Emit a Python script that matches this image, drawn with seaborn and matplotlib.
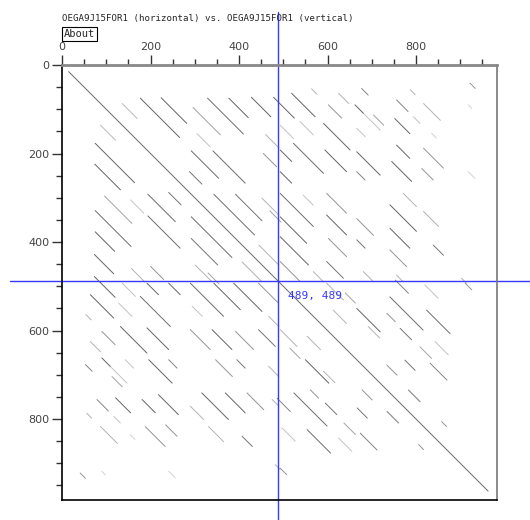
import pandas as pd
import matplotlib.pyplot as plt
import seaborn as sns
from matplotlib.colors import LinearSegmentedColormap

# === dados do dotplot ===
seq_name = "OEGA9J15FOR1"
seq_len = 983
cursor_x = 489
cursor_y = 489
tick_major = [0, 200, 400, 600, 800]
tick_minor = list(range(0, 1000, 50))

# segmentos acima da diagonal (x inicial, y inicial, comprimento, intensidade 0..1)
# a metade de baixo e o espelho (comparacao da sequencia com ela mesma)
seg_x = [15,
         136, 177, 224, 329, 377, 428, 478, 296, 305, 292, 341, 288, 343, 392,
         452, 460, 445, 455, 470,
         519, 564, 625, 677, 787, 922, 662, 681, 602, 756, 817, 918, 493, 538,
         591, 752, 666, 704, 794, 835, 493, 523, 594, 493, 666, 756, 817, 745,
         813, 666, 918, 493, 598, 545, 741, 771, 817, 598, 666, 493, 741, 839,
         493, 602, 666, 741, 598, 493, 568, 681, 756, 903,
         666, 741, 824, 753, 820, 911, 734, 764, 809, 843, 775, 832, 692, 734,
         783, 734, 858, 598, 613, 640]
seg_y = [15,
         87, 75, 74, 75, 75, 73, 73, 96, 155, 194, 194, 241, 292, 292,
         301, 157, 407, 200, 330,
         64, 54, 64, 53, 56, 41, 90, 109, 90, 79, 87, 90, 136, 128,
         132, 121, 143, 113, 117, 154, 192, 177, 192, 241, 196, 181, 188, 218,
         234, 241, 241, 290, 290, 294, 316, 290, 331, 339, 347, 343, 369, 407,
         388, 392, 395, 418, 444, 444, 467, 467, 475, 482,
         550, 524, 554, 486, 497, 493, 561, 595, 637, 625, 667, 674, 591, 678,
         735, 783, 806, 493, 554, 515]
seg_len = [948,
           34, 89, 58, 81, 44, 44, 47, 62, 30, 62, 73, 28, 92, 60,
           38, 30, 45, 30, 25,
           53, 12, 23, 15, 11, 12, 19, 38, 30, 26, 38, 8, 30, 30,
           60, 34, 19, 23, 15, 11, 26, 68, 49, 26, 53, 30, 45, 45,
           26, 19, 15, 75, 45, 23, 60, 30, 34, 45, 38, 60, 45, 23,
           64, 41, 19, 38, 38, 45, 23, 23, 15, 11,
           53, 75, 53, 30, 30, 15, 19, 26, 26, 30, 23, 38, 26, 23,
           26, 26, 11, 38, 30, 23]
seg_dark = [0.85,
            0.35, 0.9, 0.9, 0.85, 0.9, 0.9, 0.9, 0.5, 0.3, 0.85, 0.85, 0.8, 0.85, 0.8,
            0.4, 0.4, 0.4, 0.6, 0.5,
            0.9, 0.4, 0.4, 0.7, 0.4, 0.6, 0.9, 0.3, 0.6, 0.7, 0.4, 0.2, 0.3, 0.3,
            0.9, 0.9, 0.3, 0.5, 0.3, 0.2, 0.9, 0.85, 0.9, 0.9, 0.9, 0.9, 0.6, 0.9,
            0.6, 0.7, 0.2, 0.85, 0.6, 0.3, 0.9, 0.4, 0.4, 0.9, 0.6, 0.9, 0.9, 0.8,
            0.9, 0.6, 0.8, 0.6, 0.8, 0.6, 0.4, 0.4, 0.4, 0.4,
            0.9, 0.85, 0.85, 0.7, 0.3, 0.6, 0.6, 0.8, 0.5, 0.3, 0.8, 0.7, 0.4, 0.6,
            0.6, 0.4, 0.6, 0.4, 0.4, 0.5]

# === monta a tabela longa (inicio e fim de cada segmento) ===
linhas = []
k = 0
for x, y, l, d in zip(seg_x, seg_y, seg_len, seg_dark):
    pares = [(x, y)] if x == y else [(x, y), (y, x)]
    for a, b in pares:
        linhas.append({'seg': k, 'x': a, 'y': b, 'dark': d})
        linhas.append({'seg': k, 'x': a + l, 'y': b + l, 'dark': d})
        k += 1
df = pd.DataFrame(linhas)

cinza = LinearSegmentedColormap.from_list('cinza', ['#f2f2f2', '#555555'])

sns.set_style('white')
plt.rcParams['font.family'] = ['DejaVu Sans']

fig = plt.figure(figsize=(5.3, 5.2), dpi=100)
ax = fig.add_axes([62 / 530, 20 / 520, 435 / 530, 435 / 520])

sns.lineplot(data=df, x='x', y='y', units='seg', estimator=None, hue='dark',
             palette=cinza, hue_norm=(0, 1), sort=False, legend=False,
             linewidth=0.7, ax=ax)

ax.set_xlim(0, seq_len)
ax.set_ylim(seq_len, 0)
ax.set_xlabel('')
ax.set_ylabel('')

# eixos
ax.xaxis.tick_top()
ax.set_xticks(tick_major)
ax.set_xticks(tick_minor, minor=True)
ax.set_yticks(tick_major)
ax.set_yticks(tick_minor, minor=True)
ax.tick_params(which='major', length=7, width=1, color='#333333',
               labelsize=8, labelcolor='#444444', pad=2)
ax.tick_params(which='minor', length=4, width=1, color='#333333')
ax.tick_params(axis='x', which='both', top=True, bottom=False,
               labeltop=True, labelbottom=False)
ax.tick_params(axis='y', which='both', left=True, right=False)

ax.spines['top'].set_color('#888888')
ax.spines['top'].set_linewidth(2)
ax.spines['right'].set_color('#777777')
ax.spines['right'].set_linewidth(1.2)
ax.spines['left'].set_color('black')
ax.spines['left'].set_linewidth(1.2)
ax.spines['bottom'].set_color('black')
ax.spines['bottom'].set_linewidth(1.2)

# cursor azul
azul = '#3838ff'
ax.axvline(cursor_x, ymin=-0.046, ymax=1.122, color=azul, lw=1, clip_on=False)
ax.axhline(cursor_y, xmin=-0.12, xmax=1.08, color=azul, lw=1, clip_on=False)
ax.text(cursor_x + 21, cursor_y + 33, f"{cursor_x}, {cursor_y}", color=azul,
        family='DejaVu Sans Mono', fontsize=8, ha='left', va='center')

# titulo e botao
fig.text(62 / 530, 1 - 18 / 520,
         f"{seq_name} (horizontal) vs. {seq_name} (vertical)",
         family='DejaVu Sans Mono', fontsize=6.6, ha='left', va='center')
fig.text(64 / 530, 1 - 34 / 520, "About", family='DejaVu Sans Mono',
         fontsize=7.5, ha='left', va='center',
         bbox=dict(boxstyle='square,pad=0.2', fc='white', ec='black', lw=0.8))

fig.savefig('out.png', dpi=100)
